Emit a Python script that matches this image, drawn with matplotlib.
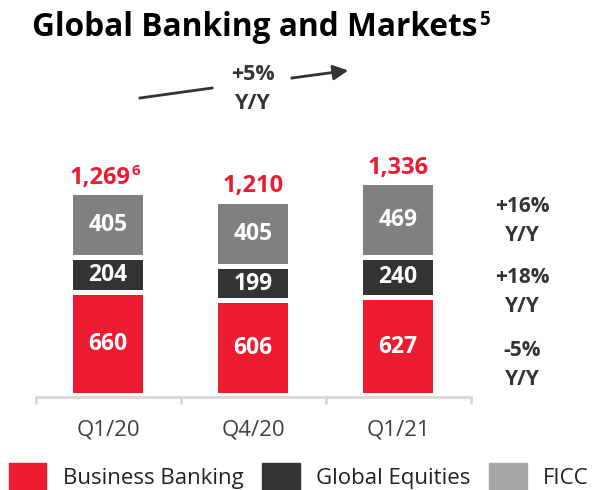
import numpy as np
import matplotlib
matplotlib.use("Agg")
import matplotlib.pyplot as plt
from matplotlib.patches import Patch

plt.rcParams['font.family'] = ['Open Sans', 'DejaVu Sans']

quarters = ['Q1/20', 'Q4/20', 'Q1/21']
business_banking = [660, 606, 627]
global_equities = [204, 199, 240]
ficc = [405, 405, 469]
totals = ['1,269', '1,210', '1,336']
total_notes = ['6', '', '']
series_names = ['Business Banking', 'Global Equities', 'FICC']
yoy_labels = ['+16%\nY/Y', '+18%\nY/Y', '-5%\nY/Y']

RED = '#ED1B2F'
DARK = '#333333'
GREY = '#808080'
LEGEND_GREY = '#A6A6A6'

fig = plt.figure(figsize=(6.04, 4.9), dpi=100)
W, H = 604, 490
# axes placed in pixel terms: left edge at 35.5px, baseline at y=397px
ax = fig.add_axes([35.5 / W, (H - 397) / H, 435 / W, 257 / H])

k = 0.148          # px per unit
gap = 5 / k        # white gap between segments, data units
x = np.arange(len(quarters))
width = 0.48

bottom = np.zeros(len(quarters))
for vals, col in [(business_banking, RED), (global_equities, DARK), (ficc, GREY)]:
    vals = np.array(vals)
    ax.bar(x, vals, width, bottom=bottom, color=col, edgecolor='none')
    for xi, b, v in zip(x, bottom, vals):
        ax.text(xi, b + v / 2, str(v), ha='center', va='center', color='white',
                fontsize=16.5, fontweight='bold')
    bottom = bottom + vals + gap

tops = bottom - gap
for xi, t, lab, note in zip(x, tops, totals, total_notes):
    # shift label left a bit when a footnote follows it
    dx = -6 if note else 0
    tt = ax.annotate(lab, (xi, t), xytext=(dx, 4), textcoords='offset points',
                     ha='center', va='bottom', color=RED, fontsize=17, fontweight='bold')
    if note:
        ax.annotate(note, (1, 1), xycoords=tt, xytext=(1, 1), textcoords='offset points',
                    ha='left', va='top', color=RED, fontsize=11, fontweight='bold')

ax.set_xlim(-0.5, 2.5)
ax.set_ylim(-4 / k, (397 - 140) / k - 4 / k)
for s in ['top', 'right', 'left']:
    ax.spines[s].set_visible(False)
ax.spines['bottom'].set_color('#D9D9D9')
ax.spines['bottom'].set_linewidth(2)
ax.set_yticks([])
ax.set_xticks(x)
ax.set_xticklabels(quarters, fontsize=16, color='#404040')
ax.set_xticks([-0.5, 0.5, 1.5, 2.5], minor=True)
ax.tick_params(axis='x', which='major', length=0, pad=16)
ax.tick_params(axis='x', which='minor', length=5, width=2, color='#D9D9D9', direction='out')

# title
title = fig.text(32 / W, 1 - 28 / H, 'Global Banking and Markets', ha='left', va='center',
                 fontsize=22.8, fontweight='bold', color='black')
ax.annotate('5', (1, 1), xycoords=title, xytext=(1, 1), textcoords='offset points',
            ha='left', va='top', fontsize=13.5, fontweight='bold', color='black')

# overall change with arrow
fig.text(253 / W, 1 - 89 / H, '+5%\nY/Y', ha='center', va='center', fontsize=15.5,
         fontweight='bold', color=DARK, linespacing=1.45)
fig.add_artist(plt.Line2D([140 / W, 212 / W], [1 - 98 / H, 1 - 88 / H],
                          transform=fig.transFigure, color=DARK, lw=2))
fig.add_artist(plt.Line2D([292 / W, 340 / W], [1 - 78 / H, 1 - 71.5 / H],
                          transform=fig.transFigure, color=DARK, lw=2))
ax.annotate('', xy=(351, H - 70), xytext=(330, H - 73), xycoords='figure pixels',
            textcoords='figure pixels',
            arrowprops=dict(arrowstyle='-|>,head_length=0.9,head_width=0.45',
                            color=DARK, lw=2))

# segment changes
for lab, yc in zip(yoy_labels, [221, 292, 365]):
    fig.text(522 / W, 1 - yc / H, lab, ha='center', va='center', fontsize=15,
             fontweight='bold', color=DARK, linespacing=1.5)

handles = [Patch(color=c) for c in [RED, DARK, LEGEND_GREY]]
fig.legend(handles, series_names, loc='lower left', bbox_to_anchor=(9 / W, 0),
           ncol=3, frameon=False, fontsize=16, handlelength=1.67, handleheight=1.5,
           handletextpad=0.75, columnspacing=0.85, borderpad=0, borderaxespad=0,
           labelcolor='#222222')

fig.savefig('out.png', dpi=100)
